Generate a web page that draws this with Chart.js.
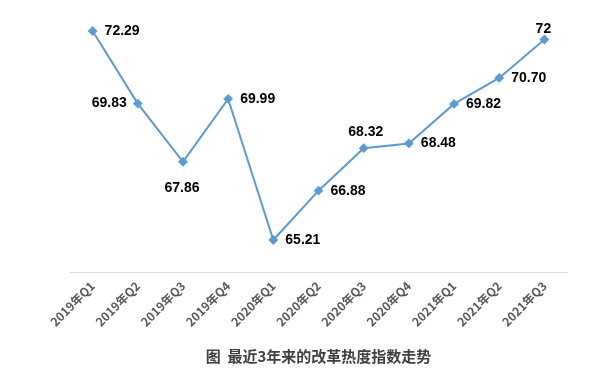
<!DOCTYPE html>
<html>
<head>
<meta charset="utf-8">
<script src="https://cdn.jsdelivr.net/npm/chart.js@4/dist/chart.umd.min.js"></script>
<style>
    html, body { margin: 0; padding: 0; background: #fff; }
    #wrap { width: 614px; height: 381px; }
</style>
</head>
<body>
<div id="wrap"><canvas id="chart"></canvas></div>
<script>
// Chart data
const categories = ['2019年Q1', '2019年Q2', '2019年Q3', '2019年Q4', '2020年Q1', '2020年Q2',
    '2020年Q3', '2020年Q4', '2021年Q1', '2021年Q2', '2021年Q3'];
const indexValues = [72.29, 69.83, 67.86, 69.99, 65.21, 66.88, 68.32, 68.48, 69.82, 70.70, 72];
const valueLabels = ['72.29', '69.83', '67.86', '69.99', '65.21', '66.88', '68.32', '68.48', '69.82', '70.70', '72'];
// where each value label sits relative to its point
const labelSides = ['right', 'left', 'below', 'right', 'right', 'right', 'above', 'right', 'right', 'right', 'above'];

// Simple value label plugin
const valueLabelPlugin = {
    id: 'valueLabels',
    afterDatasetsDraw(chart) {
        const ctx = chart.ctx;
        const meta = chart.getDatasetMeta(0);
        ctx.save();
        ctx.font = 'bold 14px "Liberation Sans", Arial, sans-serif';
        ctx.fillStyle = '#000';
        ctx.textBaseline = 'middle';
        meta.data.forEach((pt, i) => {
            const side = labelSides[i];
            let x = pt.x, y = pt.y;
            if (side === 'right') { ctx.textAlign = 'left'; x += 12; }
            else if (side === 'left') { ctx.textAlign = 'right'; x -= 11; }
            else if (side === 'below') { ctx.textAlign = 'center'; x -= 1; y += 26; }
            else if (side === 'above') {
                ctx.textAlign = 'center';
                if (i < labelSides.length - 1) { x += 2; y -= 16; }
                else { x -= 1; y -= 10; }
            }
            ctx.fillText(valueLabels[i], x, y);
        });
        ctx.restore();
    }
};

const ctx = document.getElementById('chart').getContext('2d');
new Chart(ctx, {
    type: 'line',
    data: {
        labels: categories,
        datasets: [{
            data: indexValues,
            borderColor: '#5B9BD5',
            backgroundColor: '#5B9BD5',
            borderWidth: 2,
            pointStyle: 'rectRot',
            pointRadius: 3.5,
            pointHoverRadius: 3.5,
            tension: 0,
            fill: false
        }]
    },
    options: {
        responsive: true,
        maintainAspectRatio: false,
        animation: false,
        layout: {
            padding: { left: 70, right: 47, top: 10, bottom: 16 }
        },
        plugins: {
            legend: { display: false },
            tooltip: { enabled: false },
            title: {
                display: true,
                position: 'bottom',
                text: '图  最近3年来的改革热度指数走势',
                color: '#404040',
                font: { family: '"Noto Sans CJK SC", sans-serif', size: 15, weight: 'bold' },
                padding: { top: 12, bottom: 0 }
            }
        },
        scales: {
            x: {
                offset: true,
                grid: { display: false, drawTicks: false },
                border: { display: true, color: '#D9D9D9', width: 1 },
                ticks: {
                    color: '#595959',
                    font: { family: '"Noto Sans CJK SC", sans-serif', size: 12, weight: 'bold' },
                    maxRotation: 45,
                    minRotation: 45,
                    padding: 6,
                    autoSkip: false
                }
            },
            y: {
                display: false,
                min: 64.1,
                max: 73
            }
        }
    },
    plugins: [valueLabelPlugin]
});
</script>
</body>
</html>
